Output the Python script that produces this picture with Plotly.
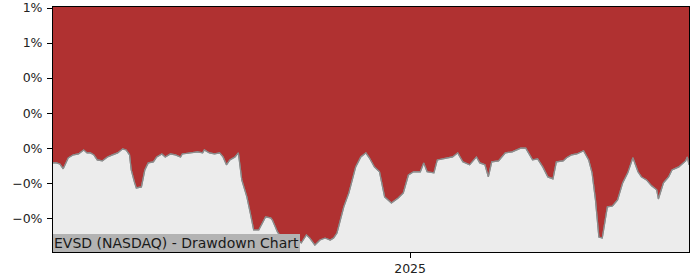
import plotly.graph_objects as go

# ---- data ----
dates = [
    "2024-06-05", "2024-06-07", "2024-06-09", "2024-06-11", "2024-06-14", "2024-06-17",
    "2024-06-20", "2024-06-23", "2024-06-25", "2024-06-27", "2024-06-29", "2024-07-01",
    "2024-07-04", "2024-07-07", "2024-07-10", "2024-07-13", "2024-07-16", "2024-07-18",
    "2024-07-20", "2024-07-21", "2024-07-23", "2024-07-24", "2024-07-27", "2024-07-29",
    "2024-07-31", "2024-08-03", "2024-08-05", "2024-08-08", "2024-08-10", "2024-08-13",
    "2024-08-16", "2024-08-19", "2024-08-20", "2024-08-25", "2024-08-29", "2024-09-01",
    "2024-09-02", "2024-09-05", "2024-09-08", "2024-09-11", "2024-09-13", "2024-09-15",
    "2024-09-17", "2024-09-20", "2024-09-22", "2024-09-24", "2024-09-27", "2024-09-29",
    "2024-10-01", "2024-10-04", "2024-10-06", "2024-10-08", "2024-10-11", "2024-10-12",
    "2024-10-15", "2024-10-17", "2024-10-19", "2024-10-22", "2024-10-25", "2024-10-27",
    "2024-10-29", "2024-11-01", "2024-11-03", "2024-11-06", "2024-11-09", "2024-11-12",
    "2024-11-15", "2024-11-17", "2024-11-19", "2024-11-21", "2024-11-23", "2024-11-26",
    "2024-11-28", "2024-11-30", "2024-12-03", "2024-12-06", "2024-12-08", "2024-12-11",
    "2024-12-14", "2024-12-17", "2024-12-21", "2024-12-25", "2024-12-28", "2024-12-31",
    "2025-01-03", "2025-01-07", "2025-01-09", "2025-01-11", "2025-01-15", "2025-01-17",
    "2025-01-23", "2025-01-26", "2025-01-29", "2025-02-01", "2025-02-05", "2025-02-09",
    "2025-02-11", "2025-02-14", "2025-02-16", "2025-02-18", "2025-02-22", "2025-02-26",
    "2025-03-02", "2025-03-07", "2025-03-10", "2025-03-12", "2025-03-14", "2025-03-17",
    "2025-03-20", "2025-03-23", "2025-03-26", "2025-03-28", "2025-04-01", "2025-04-03",
    "2025-04-06", "2025-04-09", "2025-04-13", "2025-04-16", "2025-04-18", "2025-04-20",
    "2025-04-22", "2025-04-24", "2025-04-27", "2025-04-30", "2025-05-03", "2025-05-06",
    "2025-05-09", "2025-05-12", "2025-05-15", "2025-05-17", "2025-05-20", "2025-05-23",
    "2025-05-26", "2025-05-27", "2025-05-30", "2025-06-02", "2025-06-04", "2025-06-08",
    "2025-06-12", "2025-06-13", "2025-06-14",
]

drawdown_pct = [
    -0.084, -0.084, -0.090, -0.118, -0.055, -0.038,
    -0.033, -0.010, -0.027, -0.027, -0.038, -0.067,
    -0.073, -0.050, -0.038, -0.027, -0.004, -0.010,
    -0.038, -0.124, -0.198, -0.227, -0.221, -0.124,
    -0.084, -0.078, -0.050, -0.033, -0.050, -0.033,
    -0.038, -0.050, -0.033, -0.027, -0.021, -0.027,
    -0.010, -0.027, -0.033, -0.027, -0.050, -0.095,
    -0.067, -0.050, -0.027, -0.181, -0.278, -0.370,
    -0.467, -0.467, -0.427, -0.393, -0.398, -0.410,
    -0.478, -0.507, -0.524, -0.535, -0.564, -0.524,
    -0.541, -0.495, -0.513, -0.553, -0.524, -0.513,
    -0.524, -0.513, -0.484, -0.410, -0.335, -0.255,
    -0.181, -0.107, -0.050, -0.027, -0.055, -0.107,
    -0.135, -0.278, -0.313, -0.284, -0.255, -0.153,
    -0.135, -0.135, -0.084, -0.135, -0.141, -0.067,
    -0.055, -0.050, -0.027, -0.078, -0.095, -0.050,
    -0.084, -0.095, -0.164, -0.078, -0.073, -0.027,
    -0.021, 0.000, 0.000, -0.038, -0.067, -0.061,
    -0.107, -0.164, -0.175, -0.078, -0.073, -0.055,
    -0.038, -0.033, -0.015, -0.067, -0.141, -0.295,
    -0.507, -0.513, -0.335, -0.330, -0.295, -0.198,
    -0.141, -0.055, -0.135, -0.164, -0.181, -0.215,
    -0.238, -0.290, -0.198, -0.164, -0.124, -0.107,
    -0.073, -0.050, -0.095,
]

y_tick_values = [-0.004, -0.002, 0.0, 0.002, 0.004, 0.006, 0.008]
y_tick_labels = ["\u22120%", "\u22120%", "0%", "0%", "0%", "1%", "1%"]
x_tick_values = ["2025-01-01"]
x_tick_labels = ["2025"]
y_range = [-0.005926, 0.008057]
title_text = "EVSD (NASDAQ) - Drawdown Chart"

RED = "#b03131"
GREY_BG = "#ececec"
LINE = "#8c8c8c"
FONT = "DejaVu Sans"
TICK_FONT = dict(family=FONT, size=12.5, color="#222222")

drawdown = [v / 100.0 for v in drawdown_pct]
top = [y_range[1]] * len(dates)

fig = go.Figure()
fig.add_trace(go.Scatter(
    x=dates, y=drawdown, mode="lines",
    line=dict(color=LINE, width=1.2), hoverinfo="skip", showlegend=False,
))
fig.add_trace(go.Scatter(
    x=dates, y=top, mode="lines", line=dict(width=0, color=RED),
    fill="tonexty", fillcolor=RED, hoverinfo="skip", showlegend=False,
))
fig.add_trace(go.Scatter(
    x=dates, y=drawdown, mode="lines",
    line=dict(color=LINE, width=1.2), hoverinfo="skip", showlegend=False,
))

fig.update_layout(
    width=700, height=280,
    margin=dict(l=53, r=11, t=7, b=28, autoexpand=False),
    paper_bgcolor="white",
    plot_bgcolor=GREY_BG,
    font=dict(family=FONT, size=12.5, color="#222222"),
    showlegend=False,
    xaxis=dict(
        type="date",
        range=[dates[0], dates[-1]],
        tickvals=x_tick_values, ticktext=x_tick_labels,
        showgrid=False, zeroline=False,
        showline=True, linecolor="black", linewidth=1, mirror=True,
        ticks="outside", ticklen=5, tickcolor="black",
        tickfont=TICK_FONT, automargin=False,
    ),
    yaxis=dict(
        range=y_range,
        tickvals=y_tick_values, ticktext=y_tick_labels,
        showgrid=False, zeroline=False,
        showline=True, linecolor="black", linewidth=1, mirror=True,
        ticks="outside", ticklen=5, tickcolor="black",
        tickfont=TICK_FONT, automargin=False, ticklabelstandoff=2,
    ),
    annotations=[dict(
        text=title_text, xref="paper", yref="paper", x=0, y=0,
        xanchor="left", yanchor="bottom", showarrow=False,
        bgcolor="#b3b3b3", borderpad=1, borderwidth=0,
        font=dict(family=FONT, size=14, color="#1a1a1a"),
    )],
)

fig.write_html("out.html")
